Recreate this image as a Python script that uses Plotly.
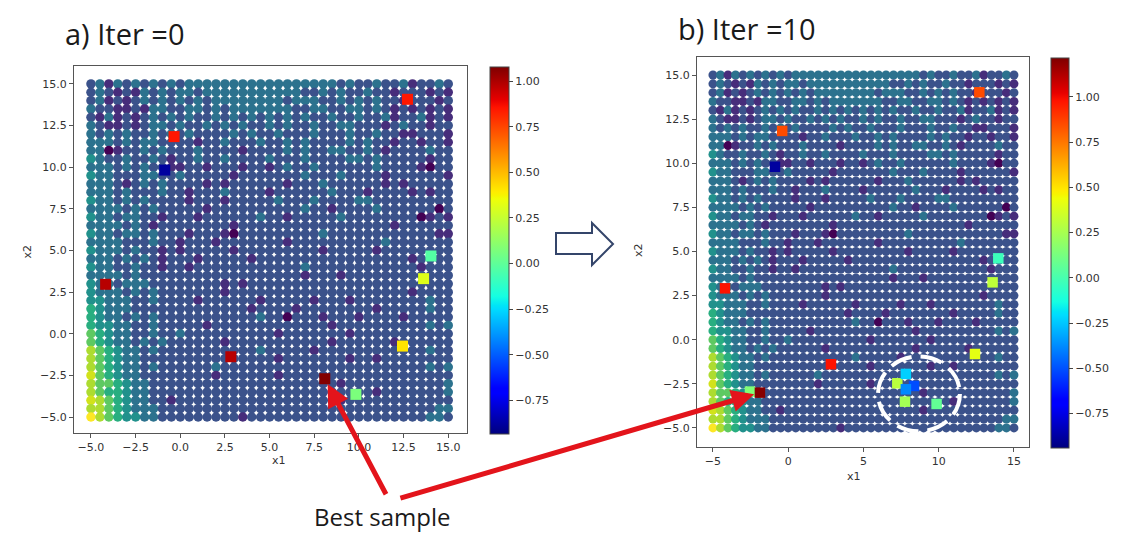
import numpy as np
import plotly.graph_objects as go

# page body has an 8px margin: figure is drawn 8px right/down of the window origin
OFF = 8
W, H = 1125 - OFF, 535 - OFF

# ---------------- data ----------------
GRID_X = np.linspace(-5, 15, 41)      # x1 grid positions
GRID_Y = np.linspace(15, -5, 41)      # x2 grid positions (top row first)

# Estimated colour level (0 = dark purple ... 9 = yellow) of each grid point
GRID_LEVELS = [
    "2313232323 2333333333 3333333323 2232231223 2",
    "2321213232 3323333333 3333223232 2322122212 1",
    "2312123232 3232333333 3323332232 3232212221 2",
    "3221121332 2332323333 3332233223 3232121212 1",
    "2131212323 2322323232 3232322322 3223122312 1",
    "3211212332 3223232322 3232232233 2221232212 2",
    "3232322323 2322223232 2322232223 2232211222 1",
    "3332323322 2212232223 2232322223 2322122122 1",
    "3301223232 2232222122 2232322332 2321222232 2",
    "4322322321 2232232222 3222322223 3232222212 2",
    "3332323221 1221222122 1232232222 2232222102 2",
    "4332223322 3222221222 2222322232 2221222222 1",
    "3332123232 2221212222 2212223222 2221212222 2",
    "3332322232 2122232222 1222222322 2122221212 2",
    "4332323222 2122212222 2322232222 3322222222 2",
    "3333232322 2221222222 2222322122 2232222220 2",
    "4332332212 2212222223 2212222232 2222222012 1",
    "3333232122 2222221222 2222222222 2222122222 2",
    "4332332322 2122210222 2222223222 2222222221 1",
    "3333222322 1222122222 2212222222 2223222222 2",
    "4333232212 1222221222 2222221222 2212222222 2",
    "3332323212 2212222212 2222222222 2222221222 2",
    "4332232212 2122222222 2222322222 2222222122 2",
    "3333232222 2222222222 2222122212 2222222222 2",
    "4332333222 2222212122 2222222222 2222222222 2",
    "4333232322 2222212222 2222222222 2222221222 2",
    "4433322322 2212222221 2222212221 2222222232 2",
    "5433322222 2222222212 2221222222 2212222232 2",
    "5433232322 2222222223 2202221222 1222212222 2",
    "5443322322 2221222222 2222222122 2222222232 3",
    "6543322322 3222222222 2122222221 2222222222 2",
    "6543323232 2222212222 2222222122 2222122222 2",
    "7654332322 2222222223 2222212222 2222222232 2",
    "7654332222 2222222222 2122222221 2212222222 2",
    "7654332322 2222322222 2222222222 2222222232 3",
    "8654332222 2222122222 2122222222 2222222222 2",
    "7665433222 2222222222 2222222212 2222222222 3",
    "7655433222 2222222222 2222222222 2212222222 3",
    "8765433221 2222222222 2222222212 2222222222 2",
    "7765433322 2222222222 2222222222 2222222223 3",
    "9765443322 2222222122 2222222222 2222222233 2",
]

# Sampled points, iteration 0
S0_X = [12.72, -0.35, -0.87, -4.18, 14.03, 13.62, 12.44, 2.83, 8.09, 9.83]
S0_Y = [14.08, 11.84, 9.83, 2.97, 4.67, 3.31, -0.74, -1.38, -2.70, -3.64]
S0_V = [0.85, 0.85, -0.88, 0.98, -0.03, 0.31, 0.41, 0.98, 1.07, 0.07]

# Sampled points, iteration 10
S10_X = [12.70, -0.40, -0.88, -4.20, 13.96, 13.58, 12.41, 2.84, 9.86,
         7.25, 7.82, 8.36, 7.82, 7.76, -2.54, -1.88]
S10_Y = [14.02, 11.83, 9.80, 2.91, 4.61, 3.25, -0.81, -1.39, -3.64,
         -2.47, -1.94, -2.62, -2.81, -3.51, -2.94, -3.00]
S10_V = [0.85, 0.85, -0.88, 0.98, -0.03, 0.31, 0.41, 0.98, 0.07,
         0.30, -0.23, -0.51, -0.38, 0.24, 0.15, 1.20]

CB0_RANGE = (-0.935, 1.077)
CB10_RANGE = (-0.94, 1.215)
CB_TICKS = [-0.75, -0.50, -0.25, 0.00, 0.25, 0.50, 0.75, 1.00]
X_TICKS_A = [-5, -2.5, 0, 2.5, 5, 7.5, 10, 12.5, 15]
X_TICKS_B = [-5, 0, 5, 10, 15]
Y_TICKS = [-5, -2.5, 0, 2.5, 5, 7.5, 10, 12.5, 15]

# ---------------- styles ----------------
VIRIDIS_LEVELS = ["#440154", "#472d7b", "#3b528b", "#2c728e", "#21918c",
                  "#28ae80", "#5ec962", "#addc30", "#d2e21b", "#fde725"]
JET = [[0.0, "#00007f"], [0.11, "#0000ff"], [0.125, "#0000ff"], [0.34, "#00dbff"],
       [0.35, "#00e5f7"], [0.375, "#15ffe2"], [0.64, "#efff08"], [0.65, "#f7f500"],
       [0.66, "#ffec00"], [0.89, "#ff1300"], [0.91, "#e80000"], [1.0, "#7f0000"]]

TICK_FONT = dict(family="DejaVu Sans", size=11, color="#333")
AX_COL = "#555"
TITLE_FONT = dict(family="Open Sans", size=29, color="#1a1a1a")


def px(x):
    return (x - OFF) / W


def py(y):
    return 1 - (y - OFF) / H


rows = [r.replace(" ", "") for r in GRID_LEVELS]
gx, gy, gc = [], [], []
for i, row in enumerate(rows):
    for j, ch in enumerate(row[:41]):
        gx.append(GRID_X[j])
        gy.append(GRID_Y[i])
        gc.append(VIRIDIS_LEVELS[int(ch)])

fig = go.Figure()

# panel a
fig.add_trace(go.Scatter(x=gx, y=gy, mode="markers", xaxis="x", yaxis="y",
                         marker=dict(size=9.5, color=gc, line=dict(width=0)),
                         hoverinfo="skip", showlegend=False))
fig.add_trace(go.Scatter(
    x=S0_X, y=S0_Y, mode="markers", xaxis="x", yaxis="y", showlegend=False,
    marker=dict(symbol="square", size=11, color=S0_V, colorscale=JET,
                cmin=CB0_RANGE[0], cmax=CB0_RANGE[1], line=dict(width=0),
                colorbar=dict(x=px(490), xanchor="left", y=py(250.5), yanchor="middle",
                              len=367, lenmode="pixels", thickness=19, xpad=0, ypad=0,
                              outlinewidth=1, outlinecolor="#444", tickvals=CB_TICKS,
                              tickformat=".2f", ticks="outside", ticklen=4,
                              tickcolor="#444", tickfont=TICK_FONT))))

# panel b
fig.add_trace(go.Scatter(x=gx, y=gy, mode="markers", xaxis="x2", yaxis="y2",
                         marker=dict(size=9, color=gc, line=dict(width=0)),
                         hoverinfo="skip", showlegend=False))
fig.add_trace(go.Scatter(
    x=S10_X, y=S10_Y, mode="markers", xaxis="x2", yaxis="y2", showlegend=False,
    marker=dict(symbol="square", size=10.5, color=S10_V, colorscale=JET,
                cmin=CB10_RANGE[0], cmax=CB10_RANGE[1], line=dict(width=0),
                colorbar=dict(x=px(1051), xanchor="left", y=py(253), yanchor="middle",
                              len=390, lenmode="pixels", thickness=18, xpad=0, ypad=0,
                              outlinewidth=1, outlinecolor="#444", tickvals=CB_TICKS,
                              tickformat=".2f", ticks="outside", ticklen=4,
                              tickcolor="#444", tickfont=TICK_FONT))))


def axis(domain, rng, ticks, fmt, anchor):
    return dict(domain=domain, range=rng, tickvals=ticks, tickformat=fmt,
                showline=True, mirror=True, linecolor=AX_COL, linewidth=1,
                ticks="outside", ticklen=4, tickcolor=AX_COL, tickfont=TICK_FONT,
                showgrid=False, zeroline=False, anchor=anchor, automargin=False)


best0 = int(np.argmax(S0_V))
best10 = int(np.argmax(S10_V))

annotations = [
    dict(text="a) Iter =0", x=px(63), y=py(34), xanchor="left", yanchor="middle",
         xref="paper", yref="paper", showarrow=False, font=TITLE_FONT),
    dict(text="b) Iter =10", x=px(676), y=py(29), xanchor="left", yanchor="middle",
         xref="paper", yref="paper", showarrow=False, font=TITLE_FONT),
    dict(text="Best sample", x=px(382), y=py(516), xanchor="center", yanchor="middle",
         xref="paper", yref="paper", showarrow=False,
         font=dict(family="Open Sans", size=24, color="#1a1a1a")),
    dict(text="x1", x=px(270), y=py(469), xref="paper", yref="paper", showarrow=False,
         font=TICK_FONT),
    dict(text="x2", x=px(18), y=py(252), xref="paper", yref="paper", showarrow=False,
         textangle=-90, font=TICK_FONT),
    dict(text="x1", x=px(863), y=py(485), xref="paper", yref="paper", showarrow=False,
         font=TICK_FONT),
    dict(text="x2", x=px(638), y=py(250), xref="paper", yref="paper", showarrow=False,
         textangle=-90, font=TICK_FONT),
    dict(text="", x=S0_X[best0], y=S0_Y[best0], xref="x", yref="y",
         ax=62, ay=117, showarrow=True, arrowhead=2, arrowsize=0.9, arrowwidth=5,
         arrowcolor="#e3141b", standoff=6),
    dict(text="", x=S10_X[best10], y=S10_Y[best10], xref="x2", yref="y2",
         ax=-361, ay=106, showarrow=True, arrowhead=2, arrowsize=0.9, arrowwidth=5,
         arrowcolor="#e3141b", standoff=6),
]

arrow_pts = [(556, 233), (592, 233), (592, 223), (613, 244), (592, 265), (592, 254), (556, 254)]
path = "M " + " L ".join(f"{px(a):.5f},{py(b):.5f}" for a, b in arrow_pts) + " Z"

shapes = [
    dict(type="path", path=path, xref="paper", yref="paper",
         line=dict(color="#34456a", width=2), fillcolor="white"),
    dict(type="circle", xref="x2", yref="y2", x0=5.97, x1=11.41, y0=-5.19, y1=-0.95,
         line=dict(color="white", width=4, dash="22px,9px")),
]

fig.update_layout(
    width=W, height=H, margin=dict(l=0, r=0, t=0, b=0),
    paper_bgcolor="white", plot_bgcolor="white",
    xaxis=axis([px(74), px(467)], [-5.95, 16.05], X_TICKS_A, ".1f", "y"),
    yaxis=axis([py(433), py(66)], [-5.96, 16.08], Y_TICKS, ".1f", "x"),
    xaxis2=axis([px(697), px(1029)], [-6.06, 16.0], X_TICKS_B, "d", "y2"),
    yaxis2=axis([py(447), py(57)], [-6.08, 16.02], Y_TICKS, ".1f", "x2"),
    annotations=annotations, shapes=shapes,
)

fig.write_html("out.html")
